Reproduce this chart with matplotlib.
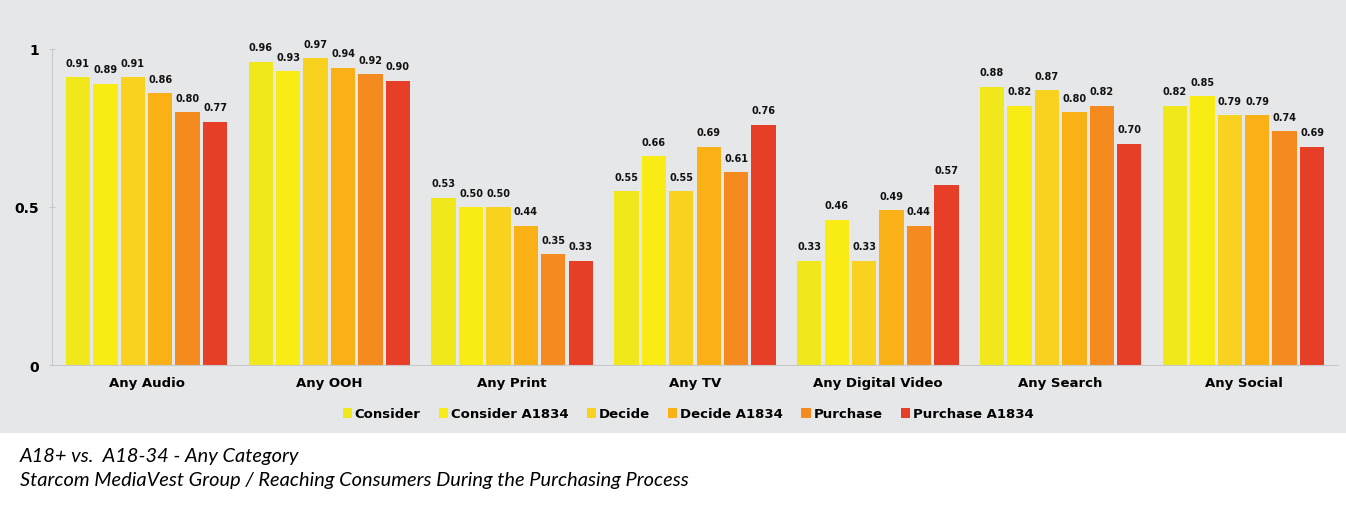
import numpy as np
import matplotlib.pyplot as plt
from matplotlib.patches import Rectangle

categories = ['Any Audio', 'Any OOH', 'Any Print', 'Any TV', 'Any Digital Video', 'Any Search', 'Any Social']
series = ['Consider', 'Consider A1834', 'Decide', 'Decide A1834', 'Purchase', 'Purchase A1834']
consider = [0.91, 0.96, 0.53, 0.55, 0.33, 0.88, 0.82]
consider_a1834 = [0.89, 0.93, 0.50, 0.66, 0.46, 0.82, 0.85]
decide = [0.91, 0.97, 0.50, 0.55, 0.33, 0.87, 0.79]
decide_a1834 = [0.86, 0.94, 0.44, 0.69, 0.49, 0.80, 0.79]
purchase = [0.80, 0.92, 0.35, 0.61, 0.44, 0.82, 0.74]
purchase_a1834 = [0.77, 0.90, 0.33, 0.76, 0.57, 0.70, 0.69]
valores = [consider, consider_a1834, decide, decide_a1834, purchase, purchase_a1834]
colores = ['#f0e81a', '#f9ec14', '#f8d21e', '#f9b116', '#f58b1f', '#e63e27']
caption = ['A18+ vs.  A18-34 - Any Category',
           'Starcom MediaVest Group / Reaching Consumers During the Purchasing Process']

fig = plt.figure(figsize=(13.46, 5.06), dpi=100)
fondo = '#e6e7e9'
# panel gris detras del grafico
panel = Rectangle((0, 1 - 434 / 506), 1, 434 / 506, transform=fig.transFigure,
                  facecolor=fondo, edgecolor='none', zorder=-10)
fig.add_artist(panel)

ax = fig.add_axes([52 / 1346, 1 - 366 / 506, (1338 - 52) / 1346, (366 - 34) / 506])
ax.set_facecolor('none')
ax.set_zorder(1)

x = np.arange(len(categories))
paso = 0.15
ancho = 0.133
for i, (nombre, vals, color) in enumerate(zip(series, valores, colores)):
    pos = x + (i - 2.5) * paso
    barras = ax.bar(pos, vals, ancho, color=color, label=nombre, zorder=2)
    for b, v in zip(barras, vals):
        ax.text(b.get_x() + b.get_width() / 2, v + 0.03, f'{v:.2f}', ha='center', va='bottom',
                fontsize=7, fontweight='bold', color='#111111')

ax.set_xlim(-0.517, len(categories) - 1 + 0.517)
ax.set_ylim(0, (366 - 34) / 316)
ax.set_yticks([0, 0.5, 1])
ax.set_yticklabels(['0', '0.5', '1'], fontsize=10, fontweight='bold')
ax.set_xticks(x)
ax.set_xticklabels(categories, fontsize=9.5, fontweight='bold')
ax.tick_params(axis='x', length=0, pad=8)
ax.tick_params(axis='y', length=5, direction='inout', color='#c8c8c8', pad=7)
for lado in ['top', 'right']:
    ax.spines[lado].set_visible(False)
ax.spines['left'].set_color('#c8c8c8')
ax.spines['bottom'].set_color('#c8c8c8')
ax.spines['left'].set_bounds(0, 1)

ax.legend(loc='center', bbox_to_anchor=(688 / 1346, 1 - 415 / 506), bbox_transform=fig.transFigure,
          ncol=6, frameon=False, prop={'size': 9.5, 'weight': 'bold'}, handlelength=0.7,
          handleheight=0.7, handletextpad=0.2, columnspacing=1.4)

fig.text(20 / 1346, 1 - 457 / 506, caption[0], fontsize=14.4, style='italic', family='Lato', va='center')
fig.text(20 / 1346, 1 - 481 / 506, caption[1], fontsize=14.4, style='italic', family='Lato', va='center')

fig.savefig('out.png', dpi=100, facecolor='white')
